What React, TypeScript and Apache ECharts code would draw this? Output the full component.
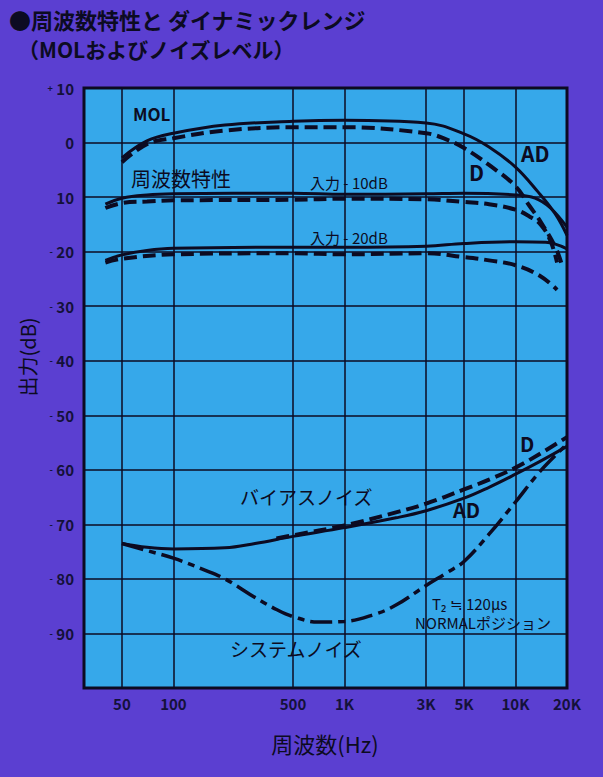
import React, { useEffect, useRef } from "react";
import * as echarts from "echarts";

// ---- tick values / labels ----
const FREQ_TICKS = [50, 100, 500, 1000, 3000, 5000, 10000, 20000];
const FREQ_TICK_LABELS = ["50", "100", "500", "1K", "3K", "5K", "10K", "20K"];

// ---- MOL ----
const molAdFreq = [50, 70, 100, 200, 500, 1000, 3000, 5000, 7000, 10000, 13500, 17000, 20000];
const molAdDb = [-2.8, 0.3, 1.7, 3.2, 3.9, 4.1, 3.6, 1.6, -0.8, -4.5, -9, -13, -17];
const molDFreq = [50, 70, 100, 200, 500, 1000, 3000, 4000, 5000, 7000, 10000, 12000, 14000, 17000, 18500];
const molDDb = [-3.6, -0.3, 0.8, 2.2, 2.8, 2.8, 1.7, 0.5, -1, -4.1, -8, -11.5, -14.5, -19, -22];

// ---- frequency response, input -10 dB ----
const in10AdFreq = [40, 50, 70, 100, 500, 1000, 3000, 5000, 10000, 13000, 16000, 20000];
const in10AdDb = [-11.3, -10.2, -9.6, -9.4, -9.3, -9.5, -9.4, -9.3, -9.6, -10.2, -12, -15.5];
const in10DFreq = [40, 50, 70, 100, 500, 1000, 3000, 5000, 7000, 10000, 12000, 14000, 16000, 17500];
const in10DDb = [-12, -11.1, -10.8, -10.6, -10.5, -10.3, -10.4, -10.9, -11.3, -12.3, -13.5, -15, -18, -22];

// ---- frequency response, input -20 dB ----
const in20AdFreq = [40, 50, 70, 100, 500, 1000, 3000, 5000, 10000, 15000, 20000];
const in20AdDb = [-21.6, -20.6, -19.8, -19.4, -19.2, -19.2, -19, -18.5, -18.2, -18.3, -19.5];
const in20DFreq = [40, 50, 100, 500, 1000, 3000, 5000, 7000, 10000, 14000, 17500];
const in20DDb = [-22, -21.3, -20.5, -20.3, -20.5, -20.3, -21, -21.6, -22.5, -24.5, -27];

// ---- bias noise ----
const biasAdFreq = [50, 70, 100, 200, 300, 500, 1000, 2000, 3000, 5000, 7000, 10000, 14000, 20000];
const biasAdDb = [-73.5, -74.2, -74.5, -74.3, -73.5, -72.2, -70.6, -68.8, -67.5, -65.2, -63.2, -60.8, -58.4, -55.7];
const biasDFreq = [400, 500, 1000, 2000, 3000, 5000, 7000, 10000, 14000, 20000];
const biasDDb = [-72.6, -72, -70.2, -67.8, -66.2, -63.6, -61.8, -59.6, -57, -54];

// ---- system noise ----
const sysFreq = [50, 70, 100, 150, 200, 300, 400, 500, 700, 1000, 1500, 2000, 3000, 4000, 5000, 7000, 10000, 14000, 20000];
const sysDb = [-73.5, -74.8, -76.2, -78.3, -80, -83.4, -85.6, -86.9, -87.9, -87.8, -86.5, -84.8, -81.2, -78.8, -76.8, -71.8, -65.9, -60.2, -55.3];

const PURPLE = "#5b3fd1";
const BLUE = "#36a8ea";
const INK = "#0c0b22";
const TXT = "#14113a";
const FONT = '"Noto Sans CJK JP", "Noto Sans", sans-serif';

const SOLID = { width: 3, type: "solid" as any };
const DASHED = { width: 4, type: [13, 6] as any };
const CHAIN = { width: 3.5, type: [22, 6, 7, 6] as any };

function curve(name: string, freq: number[], db: number[], style: any) {
  return {
    name,
    type: "line",
    data: freq.map((f, i) => [f, db[i]]),
    showSymbol: false,
    smooth: 0.4,
    silent: true,
    z: 3,
    lineStyle: { color: INK, ...style },
  };
}

function txt(text: string, x: number, y: number, size: number, weight: any = "normal", align = "left", extra: any = {}) {
  return {
    type: "text",
    x,
    y,
    silent: true,
    ...extra,
    style: {
      text,
      fill: INK,
      fontSize: size,
      fontWeight: weight,
      fontFamily: FONT,
      textAlign: align,
      textVerticalAlign: "middle",
      align,
      verticalAlign: "middle",
    },
  };
}

export default function App() {
  const ref = useRef<HTMLDivElement>(null);
  useEffect(() => {
    if (!ref.current) return;
    const chart = echarts.init(ref.current, undefined, { renderer: "svg" });
    chart.setOption({
      animation: false,
      backgroundColor: PURPLE,
      grid: {
        left: 84,
        top: 88,
        width: 483,
        height: 600,
        show: true,
        backgroundColor: BLUE,
        borderColor: INK,
        borderWidth: 3,
        z: 0,
      },
      xAxis: {
        type: "log",
        logBase: 10,
        min: 30,
        max: 20000,
        axisLine: { show: false },
        axisTick: { show: false },
        axisLabel: { show: false },
        splitLine: { show: false },
        minorSplitLine: { show: false },
      },
      yAxis: {
        type: "value",
        min: -100,
        max: 10,
        interval: 10,
        axisLine: { show: false },
        axisTick: { show: false },
        splitLine: { show: true, lineStyle: { color: INK, width: 1.5 } },
        axisLabel: {
          margin: 10,
          color: TXT,
          fontSize: 15,
          fontWeight: "bold",
          fontFamily: FONT,
          formatter: (v: number) => {
            if (v === -100) return "";
            if (v > 0) return "{s|+} " + v;
            if (v === 0) return "0";
            if (v === -10) return String(-v);
            return "{s|-} " + -v;
          },
          rich: {
            s: { fontSize: 9, color: TXT, fontFamily: FONT },
          },
        },
      },
      series: [
        {
          name: "grid",
          type: "line",
          data: [],
          z: 1,
          silent: true,
          markLine: {
            silent: true,
            symbol: ["none", "none"],
            animation: false,
            lineStyle: { color: INK, width: 1.5, type: "solid" },
            label: {
              show: true,
              position: "start",
              distance: 8,
              color: TXT,
              fontSize: 15,
              fontWeight: "bold",
              fontFamily: FONT,
              formatter: (p: any) => {
                const i = FREQ_TICKS.indexOf(p.value);
                return i >= 0 ? FREQ_TICK_LABELS[i] : "";
              },
            },
            data: FREQ_TICKS.map((v) => ({ xAxis: v })),
          },
        },
        curve("MOL AD", molAdFreq, molAdDb, SOLID),
        curve("MOL D", molDFreq, molDDb, DASHED),
        curve("-10dB AD", in10AdFreq, in10AdDb, SOLID),
        curve("-10dB D", in10DFreq, in10DDb, DASHED),
        curve("-20dB AD", in20AdFreq, in20AdDb, SOLID),
        curve("-20dB D", in20DFreq, in20DDb, DASHED),
        curve("バイアスノイズ AD", biasAdFreq, biasAdDb, SOLID),
        curve("バイアスノイズ D", biasDFreq, biasDDb, DASHED),
        curve("システムノイズ", sysFreq, sysDb, CHAIN),
      ],
      graphic: [
        txt("●周波数特性と ダイナミックレンジ", 9, 19, 22, "bold"),
        txt("（MOLおよびノイズレベル）", 18, 49, 21, "bold"),
        txt("出力(dB)", 27, 357, 20, "normal", "center", { rotation: Math.PI / 2 }),
        txt("周波数(Hz)", 325, 743, 22, "normal", "center"),
        txt("MOL", 133, 113, 17, "bold"),
        txt("周波数特性", 131, 178, 20, "normal"),
        txt("入力 - 10dB", 310, 182, 15, "normal"),
        txt("入力 - 20dB", 310, 237, 15, "normal"),
        txt("AD", 521, 153, 21, "bold"),
        txt("D", 469, 172, 21, "bold"),
        txt("D", 520, 443, 20, "bold"),
        txt("AD", 453, 509, 20, "bold"),
        txt("バイアスノイズ", 240, 496, 19, "normal"),
        txt("システムノイズ", 230, 648, 19, "normal"),
        txt("T₂ ≒ 120μs", 432, 603, 15, "normal"),
        txt("NORMALポジション", 415, 622, 15, "normal"),
      ],
    });
    return () => chart.dispose();
  }, []);
  return (
    <div
      ref={ref}
      style={{ position: "fixed", left: 0, top: 0, width: 603, height: 777 }}
    />
  );
}
